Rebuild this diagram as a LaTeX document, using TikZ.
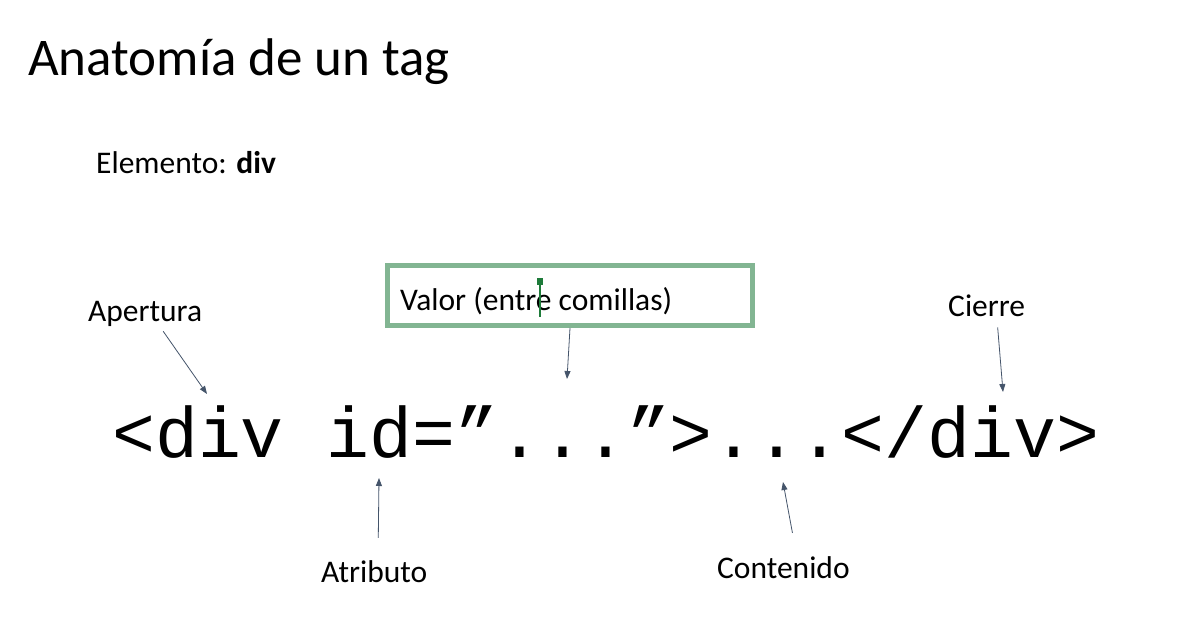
\documentclass[tikz,border=0pt]{standalone}
\usepackage{fontspec}
\setmainfont{Carlito}
\newfontfamily\codefont{Liberation Mono}
\usepackage{tikz}
\usetikzlibrary{positioning,arrows.meta,calc}
\definecolor{carrow}{HTML}{44546A}
\definecolor{cbox}{HTML}{82B592}
\definecolor{ccur}{HTML}{1E7B3A}
\tikzset{
  lbl/.style={inner sep=0pt, anchor=base west, font=\fontsize{31.5}{38}\selectfont},
  ttl/.style={inner sep=0pt, anchor=base west, font=\fontsize{53}{62}\selectfont},
  code/.style={inner sep=0pt, anchor=base west, font=\codefont\fontsize{71.5}{80}\selectfont},
  valbox/.style={rectangle, draw=cbox, line width=5pt, minimum width=365pt, minimum height=60pt, inner sep=0pt},
  flow/.style={-{Triangle[length=8pt,width=6pt]}, line width=0.8pt, draw=carrow}
}
\begin{document}
\begin{tikzpicture}[x=1pt,y=-1pt]
\useasboundingbox[fill=white] (0,0) rectangle (1178,626);
\node[ttl] (title) at (28,75) {Anatomía de un tag};
\node[lbl] (elem) at (96,173) {Elemento: \textbf{div}};
% etiqueta de la linea de codigo
\node[code] (tag) at (112,457) {<div id=”...”>...</div>};
\node[valbox] (valor) at (570,295.5) {};
\node[lbl] (valtxt) at (400,310) {Valor (entre comillas)};
\draw[ccur, line width=1.6pt] (540,283) -- (540,317);
\fill[ccur] (537,278) rectangle (543,285);
\node[lbl] (aper) at (88,321) {Apertura};
\node[lbl] (cierre) at (948,316) {Cierre};
\node[lbl] (atrib) at (321,582) {Atributo};
\node[lbl] (cont) at (717,578) {Contenido};
% puntas de las flechas
\coordinate (tipaper) at (207,394);
\coordinate (tipval) at (567,379);
\coordinate (tipcier) at (1003,392);
\coordinate (tipatrib) at (379,478);
\coordinate (tipcont) at (783,482);
\draw[flow] ($(aper.south)+(18,5)$) -- (tipaper);
\draw[flow] (valor.south) -- (tipval);
\draw[flow] ($(cierre.south)+(11,11)$) -- (tipcier);
\draw[flow] ($(atrib.north)+(4,-22)$) -- (tipatrib);
\draw[flow] ($(cont.north)+(9,-23)$) -- (tipcont);
\end{tikzpicture}
\end{document}
